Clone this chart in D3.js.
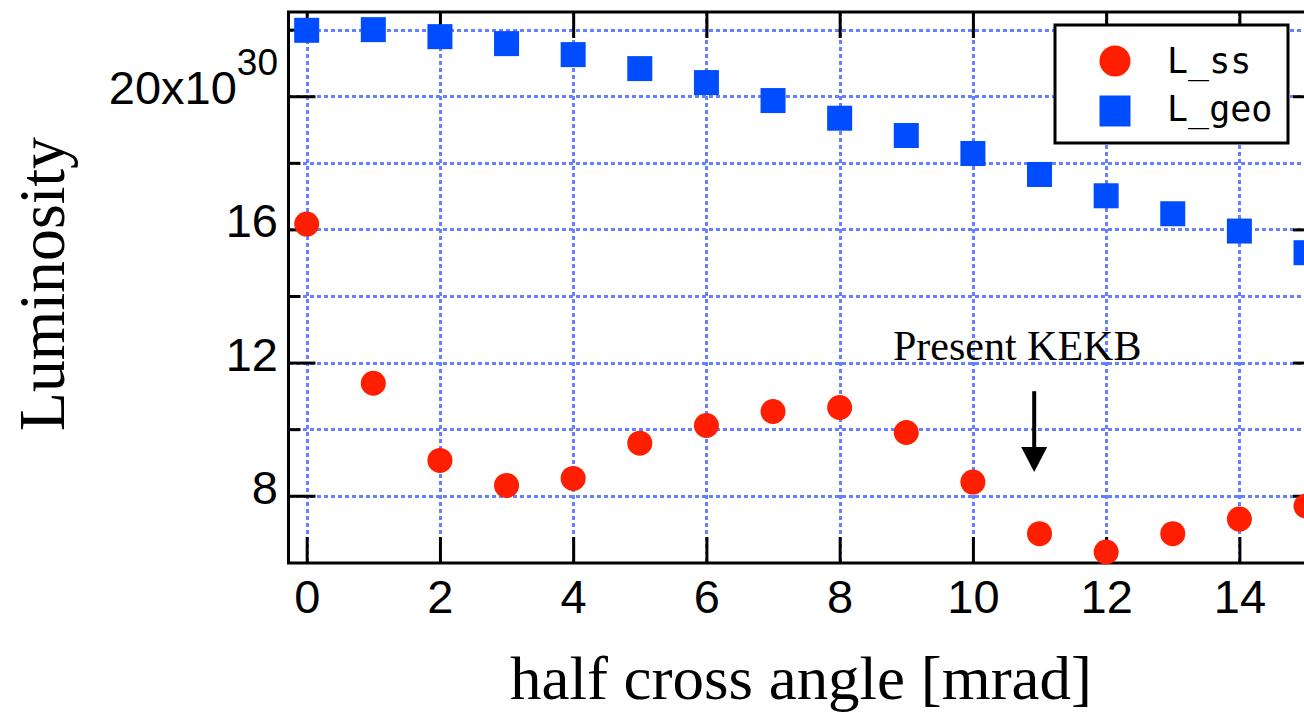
<!DOCTYPE html>
<html>
<head>
<meta charset="utf-8">
<script src="https://cdn.jsdelivr.net/npm/d3@7/dist/d3.min.js"></script>
<style>
  html, body { margin: 0; padding: 0; background: #fff; }
  svg { display: block; }
</style>
</head>
<body>
<svg id="chart" width="1304" height="715"></svg>
<script>
// ---- data ----
const angles = [0, 1, 2, 3, 4, 5, 6, 7, 8, 9, 10, 11, 12, 13, 14, 15];
const Lss  = [16.16, 11.38, 9.06, 8.31, 8.52, 9.58, 10.11, 10.53, 10.65, 9.90, 8.41, 6.86, 6.31, 6.86, 7.30, 7.69];
const Lgeo = [21.98, 22.00, 21.79, 21.58, 21.25, 20.83, 20.41, 19.87, 19.34, 18.82, 18.28, 17.65, 17.01, 16.47, 15.95, 15.30];
const xTicks = [0, 2, 4, 6, 8, 10, 12, 14];
const yMajor = [8, 12, 16, 20];
const yMinor = [10, 14, 18, 22];
const yGrid = [8, 10, 12, 14, 16, 18, 20, 22];
const seriesNames = ["L_ss", "L_geo"];
const xTitle = "half cross angle [mrad]";
const yTitle = "Luminosity";
const annotation = { label: "Present KEKB", x: 10.92, textX: 8.8, textY: 12.08, from: 11.14, to: 8.71 };

// ---- layout ----
const svg = d3.select("#chart");
const x = d3.scaleLinear().domain([-0.273, 15.21]).range([288.5, 1320]);
const y = d3.scaleLinear().domain([5.98, 22.53]).range([563, 12]);
const [x0, x1] = x.range();
const [yb, yt] = y.range();

const red = "#ff1e00", blue = "#004cff", gridCol = "#6680ff";
const tickFont = "Liberation Sans";

// grid
const grid = svg.append("g").attr("shape-rendering", "crispEdges");
grid.selectAll("line.vx").data(xTicks).join("line")
  .attr("x1", d => Math.round(x(d)) + 0.5).attr("x2", d => Math.round(x(d)) + 0.5).attr("y1", yt).attr("y2", yb)
  .attr("stroke", gridCol).attr("stroke-width", 3).attr("stroke-dasharray", "4,3");
grid.selectAll("line.hy").data(yGrid).join("line")
  .attr("x1", x0).attr("x2", x1).attr("y1", d => Math.round(y(d)) + 0.5).attr("y2", d => Math.round(y(d)) + 0.5)
  .attr("stroke", gridCol).attr("stroke-width", 3).attr("stroke-dasharray", "4,3");

// axes (inward ticks)
function styleAxis(g) {
  g.select(".domain").remove();
  g.selectAll(".tick line").attr("stroke", "#000").attr("stroke-width", 3);
}
const bottom = svg.append("g").attr("transform", `translate(0,${yb})`)
  .call(d3.axisBottom(x).tickValues(xTicks).tickSize(-26).tickPadding(0).tickFormat(d3.format("d")))
  .call(styleAxis);
bottom.selectAll(".tick text")
  .attr("y", 50).attr("dy", 0)
  .attr("font-family", tickFont).attr("font-size", 47).attr("fill", "#000");

svg.append("g").attr("transform", `translate(0,${yt})`)
  .call(d3.axisTop(x).tickValues(xTicks).tickSize(-26).tickFormat(""))
  .call(styleAxis);

svg.append("g").attr("transform", `translate(${x0},0)`)
  .call(d3.axisLeft(y).tickValues(yMajor).tickSize(-27).tickFormat(""))
  .call(styleAxis);
svg.append("g").attr("transform", `translate(${x0},0)`)
  .call(d3.axisLeft(y).tickValues(yMinor).tickSize(-12).tickFormat(""))
  .call(styleAxis);
svg.append("g").attr("transform", `translate(${x1},0)`)
  .call(d3.axisRight(y).tickValues(yMajor).tickSize(-27).tickFormat(""))
  .call(styleAxis);
svg.append("g").attr("transform", `translate(${x1},0)`)
  .call(d3.axisRight(y).tickValues(yMinor).tickSize(-12).tickFormat(""))
  .call(styleAxis);

// y tick labels
const ylab = svg.append("g").attr("font-family", tickFont).attr("fill", "#000");
yMajor.forEach(v => {
  const t = ylab.append("text").attr("x", 278).attr("y", y(v) + 8)
    .attr("text-anchor", "end").attr("font-size", 47);
  if (v === 20) {
    t.append("tspan").text("20x10");
    t.append("tspan").attr("dy", -29).attr("font-size", 37).text("30");
  } else {
    t.text(v);
  }
});

// frame
svg.append("rect").attr("x", x0).attr("y", yt).attr("width", x1 - x0).attr("height", yb - yt)
  .attr("fill", "none").attr("stroke", "#000").attr("stroke-width", 3);

// markers
const s = 25;
svg.append("g").selectAll("rect").data(angles).join("rect")
  .attr("x", (d) => x(d) - s / 2).attr("y", (d, i) => y(Lgeo[i]) - s / 2)
  .attr("width", s).attr("height", s).attr("fill", blue);
svg.append("g").selectAll("circle").data(angles).join("circle")
  .attr("cx", d => x(d)).attr("cy", (d, i) => y(Lss[i])).attr("r", s / 2).attr("fill", red);

// annotation
svg.append("text").attr("x", x(annotation.textX)).attr("y", y(annotation.textY))
  .attr("font-family", "Liberation Serif").attr("font-size", 42).attr("fill", "#000")
  .text(annotation.label);
const ax = x(annotation.x), ay1 = y(annotation.from), ay2 = y(annotation.to);
svg.append("line").attr("x1", ax).attr("x2", ax).attr("y1", ay1).attr("y2", ay2 - 20)
  .attr("stroke", "#000").attr("stroke-width", 4);
svg.append("path")
  .attr("d", `M${ax - 13},${ay2 - 25} L${ax + 13},${ay2 - 25} L${ax},${ay2} Z`)
  .attr("fill", "#000");

// legend
const lg = svg.append("g");
lg.append("rect").attr("x", 1055).attr("y", 25).attr("width", 233).attr("height", 118)
  .attr("fill", "#fff").attr("stroke", "#000").attr("stroke-width", 3);
lg.append("circle").attr("cx", 1115).attr("cy", 61).attr("r", 15.5).attr("fill", red);
lg.append("rect").attr("x", 1099.5).attr("y", 95.5).attr("width", 31).attr("height", 31).attr("fill", blue);
lg.selectAll("text").data(seriesNames).join("text")
  .attr("x", 1167).attr("y", (d, i) => 73 + i * 48)
  .attr("font-family", "DejaVu Sans Mono").attr("font-size", 35).attr("fill", "#000")
  .text(d => d);

// axis titles
svg.append("text").attr("x", 801).attr("y", 699).attr("text-anchor", "middle")
  .attr("font-family", "Liberation Serif").attr("font-size", 62).attr("fill", "#000")
  .attr("textLength", 582).attr("lengthAdjust", "spacingAndGlyphs")
  .text(xTitle);
svg.append("text").attr("transform", "translate(64,284) rotate(-90)").attr("text-anchor", "middle")
  .attr("font-family", "Liberation Serif").attr("font-size", 66).attr("fill", "#000")
  .attr("textLength", 294).attr("lengthAdjust", "spacingAndGlyphs")
  .text(yTitle);
</script>
</body>
</html>
